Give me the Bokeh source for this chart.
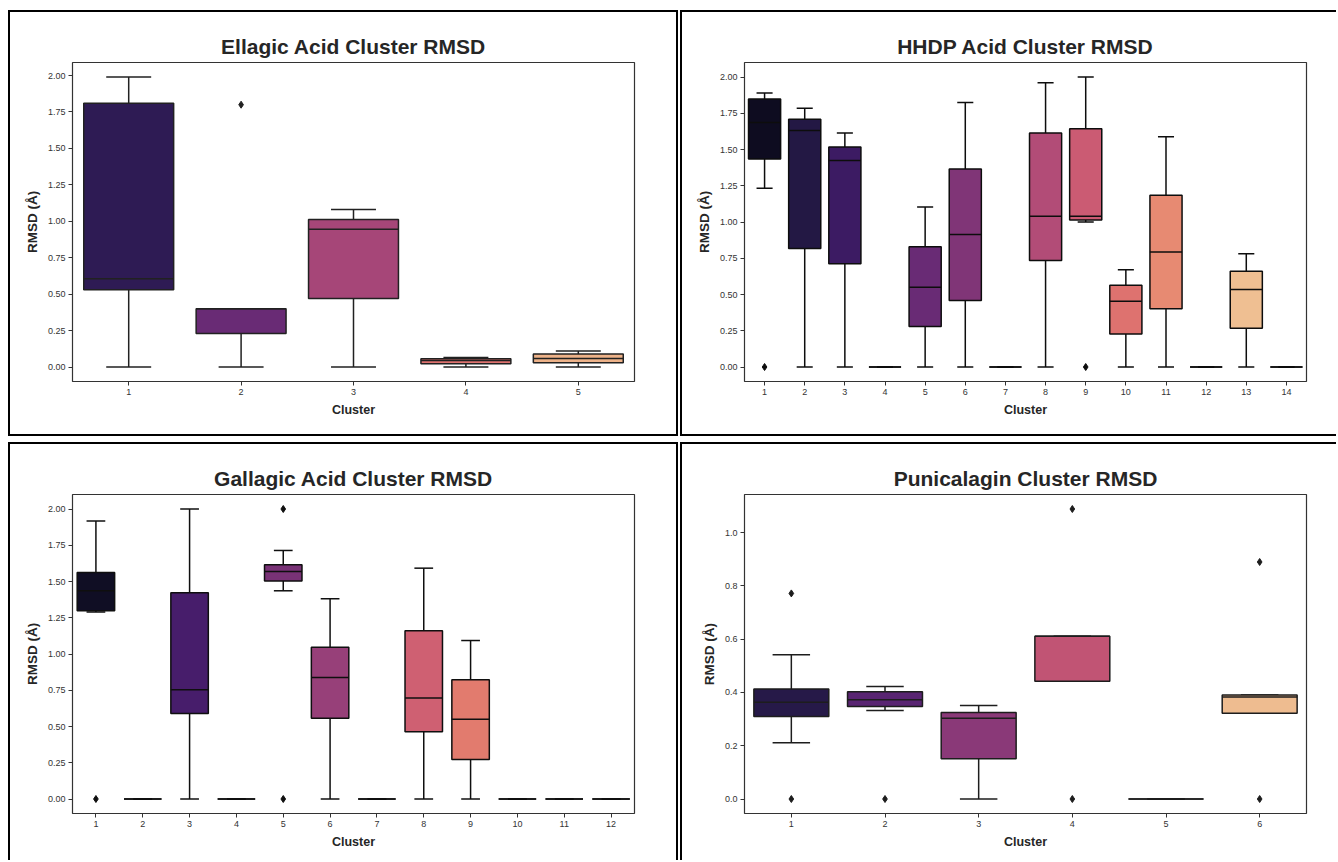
import colorsys
from bokeh.plotting import figure
from bokeh.layouts import row, column, Spacer
from bokeh.models import Range1d, FixedTicker, NumeralTickFormatter, ColumnDataSource
from bokeh.palettes import Magma256
from bokeh.embed import file_html
from bokeh.resources import INLINE

# ---------------- data (box statistics) ----------------
ellagic_clusters = ["1", "2", "3", "4", "5"]
ellagic_low = [0.00, 0.00, 0.00, 0.00, 0.00]
ellagic_q1 = [0.53, 0.23, 0.47, 0.023, 0.03]
ellagic_median = [0.605, 0.40, 0.945, 0.045, 0.059]
ellagic_q3 = [1.81, 0.40, 1.013, 0.057, 0.089]
ellagic_high = [1.99, 0.40, 1.08, 0.066, 0.11]
ellagic_out_cluster = ["2"]
ellagic_out_value = [1.80]

hhdp_clusters = [str(i) for i in range(1, 15)]
hhdp_low = [1.233, 0.0, 0.0, 0.0, 0.0, 0.0, 0.0, 0.0, 1.0, 0.0, 0.0, 0.0, 0.0, 0.0]
hhdp_q1 = [1.434, 0.818, 0.712, 0.0, 0.279, 0.458, 0.0, 0.735, 1.013, 0.227, 0.401, 0.0, 0.268, 0.0]
hhdp_median = [1.686, 1.631, 1.425, 0.0, 0.55, 0.914, 0.0, 1.04, 1.04, 0.454, 0.793, 0.0, 0.534, 0.0]
hhdp_q3 = [1.848, 1.709, 1.517, 0.0, 0.829, 1.365, 0.0, 1.613, 1.643, 0.564, 1.184, 0.0, 0.66, 0.0]
hhdp_high = [1.89, 1.785, 1.613, 0.0, 1.104, 1.824, 0.0, 1.961, 2.0, 0.671, 1.588, 0.0, 0.781, 0.0]
hhdp_out_cluster = ["1", "9"]
hhdp_out_value = [0.0, 0.0]

gallagic_clusters = [str(i) for i in range(1, 13)]
gallagic_low = [1.29, 0.0, 0.0, 0.0, 1.436, 0.0, 0.0, 0.0, 0.0, 0.0, 0.0, 0.0]
gallagic_q1 = [1.299, 0.0, 0.589, 0.0, 1.503, 0.557, 0.0, 0.463, 0.273, 0.0, 0.0, 0.0]
gallagic_median = [1.436, 0.0, 0.754, 0.0, 1.569, 0.838, 0.0, 0.696, 0.55, 0.0, 0.0, 0.0]
gallagic_q3 = [1.562, 0.0, 1.423, 0.0, 1.615, 1.047, 0.0, 1.161, 0.822, 0.0, 0.0, 0.0]
gallagic_high = [1.918, 0.0, 2.0, 0.0, 1.714, 1.381, 0.0, 1.592, 1.093, 0.0, 0.0, 0.0]
gallagic_out_cluster = ["1", "5", "5"]
gallagic_out_value = [0.0, 2.0, 0.0]

punica_clusters = ["1", "2", "3", "4", "5", "6"]
punica_low = [0.211, 0.332, 0.0, 0.442, 0.0, 0.322]
punica_q1 = [0.310, 0.347, 0.151, 0.442, 0.0, 0.322]
punica_median = [0.363, 0.373, 0.303, 0.611, 0.0, 0.383]
punica_q3 = [0.413, 0.403, 0.325, 0.611, 0.0, 0.391]
punica_high = [0.542, 0.422, 0.351, 0.611, 0.0, 0.391]
punica_out_cluster = ["1", "1", "2", "4", "4", "6", "6"]
punica_out_value = [0.772, 0.0, 0.0, 1.089, 0.0, 0.89, 0.0]

ticks_2 = [0.0, 0.25, 0.5, 0.75, 1.0, 1.25, 1.5, 1.75, 2.0]
ticks_1 = [0.0, 0.2, 0.4, 0.6, 0.8, 1.0]

FONT = "Liberation Sans"
TEXT = "#262626"


def magma_palette(n):
    cols, lights = [], []
    for k in range(n):
        pos = (k + 1) / (n + 1)
        h = Magma256[min(int(pos * 256), 255)]
        r, g, b = [int(h[i:i + 2], 16) / 255 for i in (1, 3, 5)]
        hh, l, s = colorsys.rgb_to_hls(r, g, b)
        r, g, b = colorsys.hls_to_rgb(hh, l, s * 0.75)
        cols.append("#%02x%02x%02x" % (round(r * 255), round(g * 255), round(b * 255)))
        lights.append(l)
    lum = min(lights) * 0.6
    gv = round(lum * 255)
    gray = "#%02x%02x%02x" % (gv, gv, gv)
    return cols, gray


def panel(title, clusters, low, q1, med, q3, high, out_c, out_v, ticks, fmt,
          width, height, mb_right, mb_top, mb_bottom, borders):
    n = len(clusters)
    xs = list(range(n))
    colors, gray = magma_palette(n)
    allv = low + high + out_v
    ymin, ymax = min(allv), max(allv)
    pad = 0.05 * (ymax - ymin)
    p = figure(width=width, height=height, title=title,
               x_range=Range1d(-0.5, n - 0.5), y_range=Range1d(ymin - pad, ymax + pad),
               output_backend="svg", toolbar_location=None,
               min_border_left=62, min_border_right=mb_right,
               min_border_top=mb_top, min_border_bottom=mb_bottom)
    p.styles = {"border-" + side: "2px solid black" for side in borders}
    p.background_fill_color = "white"
    p.border_fill_color = "white"
    p.outline_line_color = "#333333"
    p.outline_line_width = 1.2
    p.xgrid.visible = False
    p.ygrid.visible = False

    p.title.text_font = FONT
    p.title.text_font_size = "21px"
    p.title.text_font_style = "bold"
    p.title.text_color = TEXT
    p.title.align = "center"

    src = ColumnDataSource(dict(
        x=xs, low=low, q1=q1, med=med, q3=q3, high=high, color=colors,
        cl=[i - 0.2 for i in xs], cr=[i + 0.2 for i in xs],
        ml=[i - 0.4 for i in xs], mr=[i + 0.4 for i in xs]))
    # whiskers
    p.segment(x0="x", x1="x", y0="q3", y1="high", source=src, line_color=gray, line_width=1.5)
    p.segment(x0="x", x1="x", y0="low", y1="q1", source=src, line_color=gray, line_width=1.5)
    p.segment(x0="cl", x1="cr", y0="high", y1="high", source=src, line_color=gray, line_width=1.5)
    p.segment(x0="cl", x1="cr", y0="low", y1="low", source=src, line_color=gray, line_width=1.5)
    # boxes
    p.vbar(x="x", width=0.8, bottom="q1", top="q3", source=src, fill_color="color",
           line_color=gray, line_width=1.5)
    # medians
    p.segment(x0="ml", x1="mr", y0="med", y1="med", source=src, line_color=gray, line_width=1.5)
    # outliers
    ox = [clusters.index(c) for c in out_c]
    p.scatter(ox, out_v, marker="diamond", size=7, fill_color=gray, line_color=gray)

    p.xaxis.ticker = FixedTicker(ticks=xs)
    p.xaxis.major_label_overrides = {i: c for i, c in zip(xs, clusters)}
    p.yaxis.ticker = FixedTicker(ticks=ticks)
    p.yaxis.formatter = NumeralTickFormatter(format=fmt)
    for ax in (p.xaxis[0], p.yaxis[0]):
        ax.axis_line_color = None
        ax.major_tick_in = 0
        ax.major_tick_out = 4
        ax.major_tick_line_color = "#333333"
        ax.major_tick_line_width = 1
        ax.minor_tick_line_color = None
        ax.major_label_text_font = FONT
        ax.major_label_text_font_size = "9px"
        ax.major_label_text_color = "#333333"
        ax.major_label_standoff = 3
        ax.axis_label_text_font = FONT
        ax.axis_label_text_font_style = "bold"
        ax.axis_label_text_color = TEXT
        ax.axis_label_standoff = 5
    p.xaxis.axis_label = "Cluster"
    p.xaxis.axis_label_text_font_size = "12.5px"
    p.yaxis.axis_label = "RMSD (Å)"
    p.yaxis.axis_label_text_font_size = "13.5px"
    return p


p1 = panel("Ellagic Acid Cluster RMSD", ellagic_clusters, ellagic_low, ellagic_q1,
           ellagic_median, ellagic_q3, ellagic_high, ellagic_out_cluster, ellagic_out_value,
           ticks_2, "0.00", 670, 426, 46, 50, 57, ["left", "top", "right", "bottom"])
p2 = panel("HHDP Acid Cluster RMSD", hhdp_clusters, hhdp_low, hhdp_q1, hhdp_median,
           hhdp_q3, hhdp_high, hhdp_out_cluster, hhdp_out_value,
           ticks_2, "0.00", 656, 426, 32, 50, 57, ["left", "top", "bottom"])
p3 = panel("Gallagic Acid Cluster RMSD", gallagic_clusters, gallagic_low, gallagic_q1,
           gallagic_median, gallagic_q3, gallagic_high, gallagic_out_cluster,
           gallagic_out_value, ticks_2, "0.00", 670, 418, 46, 50, 49, ["left", "top", "right"])
p4 = panel("Punicalagin Cluster RMSD", punica_clusters, punica_low, punica_q1,
           punica_median, punica_q3, punica_high, punica_out_cluster, punica_out_value,
           ticks_1, "0.0", 656, 418, 32, 50, 49, ["left", "top"])

layout = column(
    Spacer(height=10),
    row(Spacer(width=8), p1, Spacer(width=2), p2, spacing=0),
    Spacer(height=6),
    row(Spacer(width=8), p3, Spacer(width=2), p4, spacing=0),
    spacing=0,
)
open("out.html", "w").write(file_html(layout, INLINE))
